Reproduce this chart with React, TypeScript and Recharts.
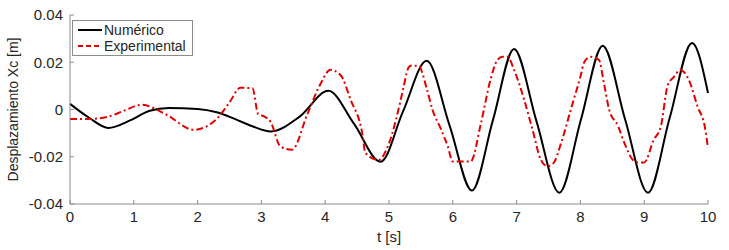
import { LineChart, Line, XAxis, YAxis } from "recharts";

const numTime = [0, 0.3, 0.6, 0.95, 1.25, 1.55, 2.0, 2.3, 2.6, 2.85, 3.15, 3.6, 4.05, 4.45, 4.87, 5.22, 5.59, 5.95, 6.3, 6.63, 6.96, 7.31, 7.67, 8.01, 8.35, 8.7, 9.06, 9.4, 9.75, 10];
const numValue = [0.0024, -0.0035, -0.0078, -0.0045, -0.0005, 0.0006, 0.0002, -0.0012, -0.0042, -0.007, -0.0093, -0.003, 0.0079, -0.006, -0.0221, -0.0008, 0.0206, -0.0068, -0.0343, -0.0044, 0.0256, -0.0048, -0.0352, -0.0041, 0.027, -0.0041, -0.0352, -0.0035, 0.0282, 0.007];

const expTime = [0, 0.3, 0.6, 0.85, 1.12, 1.5, 1.94, 2.3, 2.5, 2.67, 2.86, 2.95, 3.05, 3.14, 3.3, 3.48, 3.72, 3.93, 4.08, 4.24, 4.4, 4.58, 4.63, 4.84, 4.99, 5.23, 5.29, 5.34, 5.46, 5.6, 5.68, 5.81, 5.92, 6.0, 6.28, 6.44, 6.59, 6.7, 6.78, 6.86, 6.96, 7.12, 7.25, 7.38, 7.48, 7.57, 7.7, 7.85, 8.0, 8.06, 8.16, 8.29, 8.37, 8.45, 8.59, 8.69, 8.82, 8.9, 9.0, 9.15, 9.26, 9.37, 9.47, 9.56, 9.7, 9.84, 9.95, 10];
const expValue = [-0.004, -0.004, -0.003, -0.0005, 0.002, -0.002, -0.0086, -0.004, 0.003, 0.0092, 0.009, -0.002, -0.003, -0.005, -0.0157, -0.017, -0.002, 0.011, 0.0168, 0.0146, 0.004, -0.01, -0.0184, -0.0213, -0.015, 0.0096, 0.0168, 0.0185, 0.0185, 0.008, 0.0, -0.008, -0.0155, -0.022, -0.022, -0.006, 0.0125, 0.021, 0.0223, 0.0223, 0.0168, 0.004, -0.0086, -0.0213, -0.024, -0.023, -0.014, 0.0, 0.0139, 0.02, 0.0223, 0.021, 0.011, 0.0, -0.007, -0.0142, -0.0213, -0.0224, -0.0224, -0.0128, -0.0073, 0.0104, 0.0139, 0.0168, 0.0125, 0.001, -0.0073, -0.0163];

const xTicks = [0, 1, 2, 3, 4, 5, 6, 7, 8, 9, 10];
const yTicks = [-0.04, -0.02, 0, 0.02, 0.04];

const numData = numTime.map((t, i) => ({ t, v: numValue[i] }));
const expData = expTime.map((t, i) => ({ t, v: expValue[i] }));

const FONT = "Liberation Sans, Arial, sans-serif";
const TEXT = "#262626";
const AXIS = "#8c8c8c";

function XTick({ x, y, payload }: any) {
  return (
    <g>
      <line x1={x} x2={x} y1={y - 7} y2={y - 11} stroke={AXIS} />
      <text x={x} y={y} dy="0.71em" textAnchor="middle" fontSize={15} fill={TEXT} fontFamily={FONT}>
        {payload.value}
      </text>
    </g>
  );
}

function YTick({ x, y, payload }: any) {
  return (
    <g>
      <line x1={x + 7} x2={x + 11} y1={y} y2={y} stroke={AXIS} />
      <text x={x} y={y} dy="0.355em" textAnchor="end" fontSize={15} fill={TEXT} fontFamily={FONT}>
        {payload.value === 0 ? "0" : payload.value.toFixed(2)}
      </text>
    </g>
  );
}

function LegendBox() {
  const rows = [
    { name: "Numérico", color: "#000000", dash: undefined },
    { name: "Experimental", color: "#e00000", dash: "5 3" },
  ];
  return (
    <div
      style={{
        position: "absolute",
        left: 72,
        top: 20,
        border: `1px solid ${AXIS}`,
        background: "#fff",
        padding: "1px 6px 1px 5px",
        fontFamily: FONT,
        fontSize: 14,
        color: TEXT,
        lineHeight: "16px",
      }}
    >
      {rows.map((r) => (
        <div key={r.name} style={{ display: "flex", alignItems: "center" }}>
          <svg width={26} height={16}>
            <line x1={0} x2={24} y1={8} y2={8} stroke={r.color} strokeWidth={2} strokeDasharray={r.dash} />
          </svg>
          <span>{r.name}</span>
        </div>
      ))}
    </div>
  );
}

export default function App() {
  return (
    <div style={{ position: "absolute", left: 0, top: 0, background: "#fff" }}>
      <LineChart width={729} height={250} margin={{ top: 15, right: 21, left: 0, bottom: 0 }}>
        <XAxis
          dataKey="t"
          type="number"
          domain={[0, 10]}
          ticks={xTicks}
          allowDuplicatedCategory={false}
          height={46}
          tickSize={0}
          tickMargin={7}
          stroke={AXIS}
          tick={<XTick />}
          label={{ value: "t [s]", position: "insideBottom", offset: 8, fontSize: 15, fill: TEXT, fontFamily: FONT }}
        />
        <YAxis
          dataKey="v"
          type="number"
          domain={[-0.04, 0.04]}
          ticks={yTicks}
          width={70}
          tickSize={0}
          tickMargin={7}
          stroke={AXIS}
          tick={<YTick />}
          label={({ viewBox }: any) => (
            <text
              x={viewBox.x + 18}
              y={viewBox.y + viewBox.height / 2}
              transform={`rotate(-90, ${viewBox.x + 18}, ${viewBox.y + viewBox.height / 2})`}
              textAnchor="middle"
              fontSize={14}
              fill={TEXT}
              fontFamily={FONT}
            >
              Desplazamiento Xc [m]
            </text>
          )}
        />
        <Line data={numData} dataKey="v" type="monotone" stroke="#000000" strokeWidth={2} dot={false} isAnimationActive={false} name="Numérico" />
        <Line
          data={expData}
          dataKey="v"
          type="monotone"
          stroke="#e00000"
          strokeWidth={2}
          strokeDasharray="7 3 2 3"
          dot={false}
          isAnimationActive={false}
          name="Experimental"
        />
      </LineChart>
      <LegendBox />
    </div>
  );
}
